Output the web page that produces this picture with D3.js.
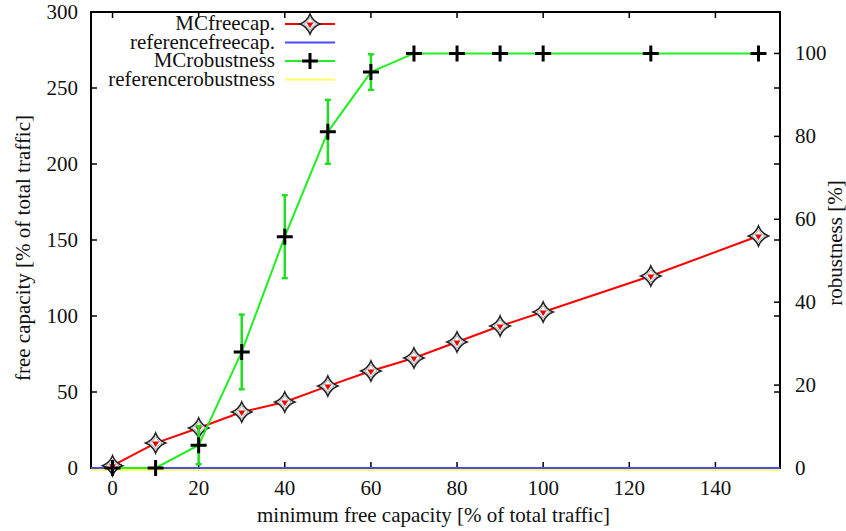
<!DOCTYPE html>
<html>
<head>
<meta charset="utf-8">
<script src="https://cdn.jsdelivr.net/npm/d3@7"></script>
<style>
  body { margin: 0; background: #fff; }
</style>
</head>
<body>
<svg width="846" height="531"></svg>
<script>
// data
const xs = [0, 10, 20, 30, 40, 50, 60, 70, 80, 90, 100, 125, 150];
const mcFreecap = [1.5, 16.4, 26.3, 36.8, 43.4, 53.9, 63.8, 72.4, 82.9, 93.4, 102.6, 126.3, 152.6];
const mcRobust = [0, 0, 5.5, 28, 55.8, 81.1, 95.5, 100, 100, 100, 100, 100, 100];
const robustErr = [0, 0, 4.6, 9, 10, 7.7, 4.3, 0, 0, 0, 0, 0, 0];
const refX = [-5, 155];
const refFreecap = [0, 0];
const refRobust = [0, 0];
const xTicks = [0, 20, 40, 60, 80, 100, 120, 140];
const yTicks = [0, 50, 100, 150, 200, 250, 300];
const y2Ticks = [0, 20, 40, 60, 80, 100];
const legendNames = ['MCfreecap.', 'referencefreecap.', 'MCrobustness', 'referencerobustness'];

const L = 91, R = 780, T = 12, B = 468;
const FS = '21px';
const FONT = 'Liberation Serif';
const TICK = 6;

const svg = d3.select('svg');
const x = d3.scaleLinear().domain([-5, 155]).range([L, R]);
const y = d3.scaleLinear().domain([0, 300]).range([B, T]);
const y2 = d3.scaleLinear().domain([0, 110]).range([B, T]);

// every label goes through here so the font is set on the text itself
function label(sel) {
  return sel.style('font-family', FONT).style('font-size', FS).attr('fill', '#111');
}

// 4-point star point type
function starPath(r) {
  const k = r * 0.28;
  return `M0,${-r} Q${k},${-k} ${r},0 Q${k},${k} 0,${r} Q${-k},${k} ${-r},0 Q${-k},${-k} 0,${-r}Z`;
}
function drawStar(g, cx, cy) {
  const s = g.append('g').attr('transform', `translate(${cx},${cy})`);
  s.append('path').attr('d', starPath(10)).attr('fill', '#fff')
    .attr('stroke', '#222').attr('stroke-width', 1.6);
  s.append('path').attr('d', starPath(6.5)).attr('fill', 'none')
    .attr('stroke', '#999').attr('stroke-width', 0.8);
  s.append('path').attr('d', 'M-3.5,-1.5 L3.5,-1.5 L0,4Z').attr('fill', '#ee0000');
}
function drawCross(g, cx, cy) {
  g.append('path').attr('d', `M${cx - 8},${cy} H${cx + 8} M${cx},${cy - 8} V${cy + 8}`)
    .attr('stroke', '#000').attr('stroke-width', 3).attr('fill', 'none');
}

// reference robustness along zero (yellow, sits just under the blue)
svg.append('path')
  .attr('d', d3.line().x(d => x(d[0])).y(d => y2(d[1]) + 2)(d3.zip(refX, refRobust)))
  .attr('stroke', '#ffff66').attr('stroke-width', 2).attr('fill', 'none');

// frame
svg.append('rect').attr('x', L).attr('y', T).attr('width', R - L).attr('height', B - T)
  .attr('fill', 'none').attr('stroke', '#000').attr('stroke-width', 2);

// ticks (inward, mirrored)
const tg = svg.append('g').attr('stroke', '#000').attr('stroke-width', 1.5);
xTicks.forEach(v => {
  tg.append('line').attr('x1', x(v)).attr('x2', x(v)).attr('y1', B).attr('y2', B - TICK);
  tg.append('line').attr('x1', x(v)).attr('x2', x(v)).attr('y1', T).attr('y2', T + TICK);
});
yTicks.forEach(v => {
  tg.append('line').attr('x1', L).attr('x2', L + TICK).attr('y1', y(v)).attr('y2', y(v));
  tg.append('line').attr('x1', R).attr('x2', R - TICK).attr('y1', y(v)).attr('y2', y(v));
});
y2Ticks.forEach(v => {
  tg.append('line').attr('x1', R).attr('x2', R - TICK).attr('y1', y2(v)).attr('y2', y2(v));
});

// tick labels
label(svg.append('g').selectAll('text').data(xTicks).join('text')
  .attr('x', d => x(d)).attr('y', 495).attr('text-anchor', 'middle').text(d => d));
label(svg.append('g').selectAll('text').data(yTicks).join('text')
  .attr('x', 78).attr('y', d => y(d) + 7).attr('text-anchor', 'end').text(d => d));
label(svg.append('g').selectAll('text').data(y2Ticks).join('text')
  .attr('x', 795).attr('y', d => y2(d) + 7).attr('text-anchor', 'start').text(d => d));

// axis titles
label(svg.append('text').attr('x', (L + R) / 2 - 2).attr('y', 522).attr('text-anchor', 'middle')
  .text('minimum free capacity [% of total traffic]'));
label(svg.append('text').attr('transform', `translate(30,${(T + B) / 2 + 8}) rotate(-90)`)
  .attr('text-anchor', 'middle').text('free capacity [% of total traffic]'));
label(svg.append('text').attr('transform', `translate(842,243) rotate(-90)`)
  .attr('text-anchor', 'middle').text('robustness [%]'));

// blue reference freecap
svg.append('path')
  .attr('d', d3.line().x(d => x(d[0])).y(d => y(d[1]))(d3.zip(refX, refFreecap)))
  .attr('stroke', '#4a4aff').attr('stroke-width', 2).attr('fill', 'none');

// MC free capacity (red)
const redPts = d3.zip(xs, mcFreecap);
svg.append('path')
  .attr('d', d3.line().x(d => x(d[0])).y(d => y(d[1]))(redPts))
  .attr('stroke', '#ff0000').attr('stroke-width', 2).attr('fill', 'none');
const redG = svg.append('g');
redPts.forEach(d => drawStar(redG, x(d[0]), y(d[1])));

// MC robustness (green) with error bars
const greenPts = d3.zip(xs, mcRobust, robustErr);
svg.append('path')
  .attr('d', d3.line().x(d => x(d[0])).y(d => y2(d[1]))(greenPts))
  .attr('stroke', '#22ee22').attr('stroke-width', 2).attr('fill', 'none');
const eg = svg.append('g').attr('stroke', '#22dd22').attr('stroke-width', 2.5);
greenPts.filter(d => d[2] > 0).forEach(d => {
  const cx = x(d[0]), lo = y2(d[1] - d[2]), hi = y2(d[1] + d[2]);
  eg.append('line').attr('x1', cx).attr('x2', cx).attr('y1', lo).attr('y2', hi);
  eg.append('line').attr('x1', cx - 3).attr('x2', cx + 3).attr('y1', lo).attr('y2', lo);
  eg.append('line').attr('x1', cx - 3).attr('x2', cx + 3).attr('y1', hi).attr('y2', hi);
});
const crossG = svg.append('g');
greenPts.forEach(d => drawCross(crossG, x(d[0]), y2(d[1])));

// legend
const legColors = ['#ff0000', '#4a4aff', '#22ee22', '#ffff66'];
const lg = svg.append('g');
legendNames.forEach((name, i) => {
  const ly = 24 + i * 18.5;
  label(lg.append('text').attr('x', 275).attr('y', ly + 6).attr('text-anchor', 'end').text(name));
  lg.append('line').attr('x1', 285).attr('x2', 335).attr('y1', ly).attr('y2', ly)
    .attr('stroke', legColors[i]).attr('stroke-width', 2);
});
drawStar(lg, 310, 24);
drawCross(lg, 310, 24 + 2 * 18.5);
</script>
</body>
</html>
